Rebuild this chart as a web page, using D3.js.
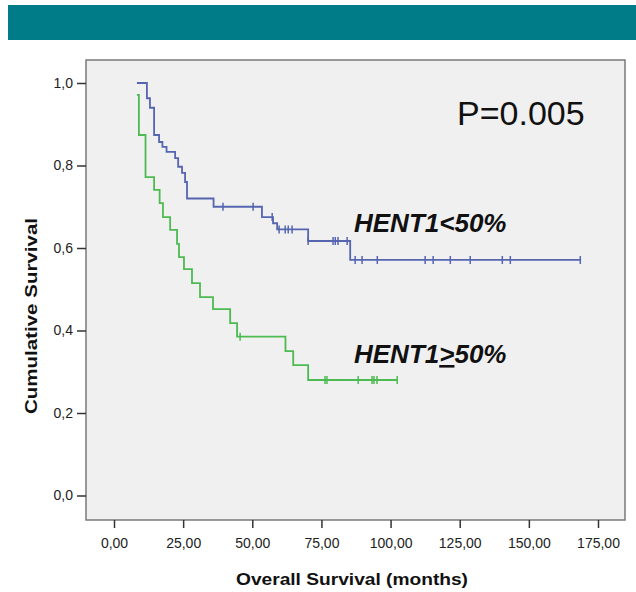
<!DOCTYPE html>
<html>
<head>
<meta charset="utf-8">
<script src="https://cdn.jsdelivr.net/npm/d3@7"></script>
<style>
  body { margin: 0; background: #fff; }
  text { font-family: "Liberation Sans", Arial, sans-serif; }
</style>
</head>
<body>
<svg width="636" height="592"></svg>
<script>
// Kaplan-Meier steps (time in months, survival after the step)
const lowTimes = [8.3, 11.9, 13.0, 14.5, 16.3, 17.5, 19.0, 22.1, 23.2, 24.6, 25.7, 26.4, 36.0, 53.5, 57.5, 59.0, 70.2, 85.4, 168.6];
const lowSurv = [1.0, 0.963, 0.94, 0.874, 0.857, 0.845, 0.833, 0.818, 0.797, 0.782, 0.76, 0.72, 0.70, 0.675, 0.66, 0.645, 0.617, 0.571, 0.571];
const lowCensored = [39.4, 50.3, 57.2, 59.7, 61.9, 63.0, 64.4, 70.2, 79.2, 80.0, 81.0, 84.3, 87.2, 89.7, 95.2, 112.5, 115.4, 121.6, 128.8, 140.4, 143.3, 168.6];

const highTimes = [8.3, 9.0, 11.4, 14.5, 16.5, 17.7, 20.3, 22.8, 23.5, 25.3, 28.2, 31.1, 35.8, 42.0, 44.5, 62.0, 64.8, 70.2, 102.4];
const highSurv = [0.971, 0.874, 0.772, 0.741, 0.709, 0.675, 0.644, 0.61, 0.578, 0.549, 0.515, 0.481, 0.452, 0.418, 0.385, 0.35, 0.316, 0.28, 0.28];
const highCensored = [45.6, 76.3, 77.0, 88.3, 93.3, 94.0, 95.1, 102.4];

const xTicks = [0, 25, 50, 75, 100, 125, 150, 175];
const yTicks = [0, 0.2, 0.4, 0.6, 0.8, 1.0];

const svg = d3.select("svg");

// teal header band
svg.append("rect")
  .attr("x", 8).attr("y", 5)
  .attr("width", 628).attr("height", 35)
  .attr("fill", "#007c88");

// plot frame
const frame = { left: 86, top: 60, right: 625, bottom: 520 };
svg.append("rect")
  .attr("x", frame.left).attr("y", frame.top)
  .attr("width", frame.right - frame.left)
  .attr("height", frame.bottom - frame.top)
  .attr("fill", "#f0f0f0")
  .attr("stroke", "#7a7a7a")
  .attr("stroke-width", 1.5);

const x = d3.scaleLinear().domain([0, 175]).range([114, 598]);
const y = d3.scaleLinear().domain([0, 1]).range([495.5, 83]);

// x axis
const gx = svg.append("g")
  .attr("transform", `translate(0,${frame.bottom})`)
  .call(d3.axisBottom(x).tickValues(xTicks).tickSize(8).tickPadding(10)
    .tickFormat(d => d.toFixed(2).replace(".", ",")));
gx.select(".domain").remove();

// y axis
const gy = svg.append("g")
  .attr("transform", `translate(${frame.left},0)`)
  .call(d3.axisLeft(y).tickValues(yTicks).tickSize(9).tickPadding(4)
    .tickFormat(d => d.toFixed(1).replace(".", ",")));
gy.select(".domain").remove();

svg.selectAll(".tick line").attr("stroke", "#333").attr("stroke-width", 1.5);
svg.selectAll(".tick text")
  .attr("fill", "#222")
  .style("font-size", "14px")
  .style("font-family", "'Liberation Sans', Arial, sans-serif");

// axis titles
svg.append("text")
  .attr("x", 352).attr("y", 585)
  .attr("text-anchor", "middle")
  .attr("textLength", 232).attr("lengthAdjust", "spacingAndGlyphs")
  .style("font-size", "17px").style("font-weight", "bold")
  .attr("fill", "#111")
  .text("Overall Survival (months)");

svg.append("text")
  .attr("transform", "translate(37,316) rotate(-90)")
  .attr("text-anchor", "middle")
  .attr("textLength", 196).attr("lengthAdjust", "spacingAndGlyphs")
  .style("font-size", "17px").style("font-weight", "bold")
  .attr("fill", "#111")
  .text("Cumulative Survival");

// survival curves
const line = d3.line()
  .x(d => x(d[0]))
  .y(d => y(d[1]))
  .curve(d3.curveStepAfter);

function survAt(times, surv, t) {
  let s = surv[0];
  for (let i = 0; i < times.length; i++) {
    if (times[i] <= t) s = surv[i];
  }
  return s;
}

const groups = [
  { times: lowTimes, surv: lowSurv, cens: lowCensored, color: "#5565b0" },
  { times: highTimes, surv: highSurv, cens: highCensored, color: "#4dba52" }
];

groups.forEach(g => {
  svg.append("path")
    .datum(d3.zip(g.times, g.surv))
    .attr("d", line)
    .attr("fill", "none")
    .attr("stroke", g.color)
    .attr("stroke-width", 1.8);

  svg.selectAll(null)
    .data(g.cens)
    .join("line")
    .attr("x1", d => x(d)).attr("x2", d => x(d))
    .attr("y1", d => y(survAt(g.times, g.surv, d)) - 4)
    .attr("y2", d => y(survAt(g.times, g.surv, d)) + 4)
    .attr("stroke", g.color)
    .attr("stroke-width", 1.5);
});

// annotations
svg.append("text")
  .attr("x", 457).attr("y", 125)
  .style("font-size", "34px")
  .attr("fill", "#111")
  .text("P=0.005");

svg.append("text")
  .attr("x", 354).attr("y", 232)
  .style("font-size", "26px").style("font-weight", "bold").style("font-style", "italic")
  .attr("fill", "#111")
  .text("HENT1<50%");

const t2 = svg.append("text")
  .attr("x", 354).attr("y", 363)
  .style("font-size", "26px").style("font-weight", "bold").style("font-style", "italic")
  .attr("fill", "#111");
t2.append("tspan").text("HENT1");
t2.append("tspan").style("text-decoration", "underline").text(">");
t2.append("tspan").text("50%");
</script>
</body>
</html>
